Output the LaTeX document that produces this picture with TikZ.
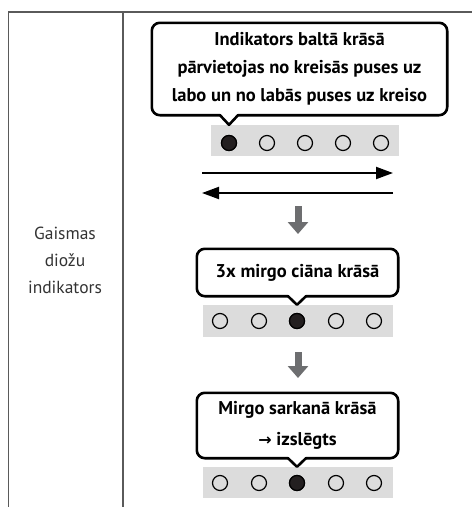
\documentclass[tikz,border=0pt]{standalone}
\usepackage{fontspec}
\setmainfont{PT Sans}
\newfontfamily\symfont{DejaVu Sans}
\usetikzlibrary{arrows.meta,positioning}

\definecolor{rulegray}{HTML}{5A5A5A}
\definecolor{arrowgray}{HTML}{6D6E70}
\definecolor{rowgray}{HTML}{DCDCDC}
\definecolor{ledblack}{HTML}{231F20}

\tikzset{
  bubbletext/.style={align=center, inner sep=0pt, font=\bfseries\fontsize{18.5}{28}\selectfont},
  bubble/.style={draw=black, line width=2.6pt, fill=white, line join=round},
  ledrow/.style={fill=rowgray, draw=none, inner sep=0pt},
  ledoff/.style={circle, draw=black, line width=1.2pt, minimum size=15pt, inner sep=0pt},
  ledon/.style={ledoff, fill=ledblack},
  slide/.style={line width=2pt, -{Triangle[length=17pt,width=12pt]}},
  nextstep/.style={arrowgray, line width=7pt, -{Triangle[length=12pt,width=20pt]}},
}

\begin{document}
\begin{tikzpicture}[x=1pt,y=-1pt]
			\useasboundingbox (0,0) rectangle (472,507);
			
			% table rules
			\draw[rulegray, line width=1.3pt] (8,12) -- (472,12);
			\draw[rulegray, line width=1.3pt] (8.5,12) -- (8.5,507);
			\draw[rulegray, line width=1.3pt] (123,12) -- (123,507);
			
			\node[align=center, text=black!80, font=\fontsize{17.5}{27}\selectfont] (label) at (65,260) {Gaismas\\diožu\\indikators};
			
			% first state: white, moving
			\node[ledrow, minimum width=188pt, minimum height=31pt] (rowA) at (305,140.5) {};
			\foreach \i/\x in {1/229,2/267,3/305,4/343,5/381}
				\node[ledoff] (ledA\i) at (\x,143) {};
			\node[ledon] at (ledA1) {};
			\coordinate (tipA) at (ledA1 |- rowA.north);
			
			\node[minimum width=295pt, minimum height=92pt, inner sep=0pt] (boxA) at (299.5,69) {};
			\draw[bubble] (tipA) -- ([xshift=-9pt]tipA |- boxA.south) [rounded corners=8pt] -- (boxA.south west) -- (boxA.north west) -- (boxA.north east) -- (boxA.south east) [sharp corners] -- ([xshift=9pt]tipA |- boxA.south) -- cycle;
			\node[bubbletext] (msgA) at (boxA) {Indikators baltā krāsā\\pārvietojas no kreisās puses uz\\labo un no labās puses uz kreiso};
			
			\coordinate (slideL) at (202,173);
			\coordinate (slideR) at (393,173);
			\draw[slide] (slideL) -- (slideR);
			\draw[slide] ([yshift=-20pt]slideR) -- ([yshift=-20pt]slideL);
			
			\coordinate (downA1) at (298,206);
			\coordinate (downA2) at (298,234);
			\draw[nextstep] (downA1) -- (downA2);
			
			% second state: cyan blinking
			\node[ledrow, minimum width=190pt, minimum height=32pt] (rowB) at (298,321) {};
			\foreach \i/\x in {1/220,2/259,3/297,4/336,5/374}
				\node[ledoff] (ledB\i) at (\x,321) {};
			\node[ledon] at (ledB3) {};
			\coordinate (tipB) at (ledB3 |- rowB.north);
			
			\node[minimum width=201pt, minimum height=47pt, inner sep=0pt] (boxB) at (297.5,272.5) {};
			\draw[bubble] (tipB) -- ([xshift=-9pt]tipB |- boxB.south) [rounded corners=8pt] -- (boxB.south west) -- (boxB.north west) -- (boxB.north east) -- (boxB.south east) [sharp corners] -- ([xshift=9pt]tipB |- boxB.south) -- cycle;
			\node[bubbletext] (msgB) at (boxB) {3x mirgo ciāna krāsā};
			
			\coordinate (downB1) at (298,352);
			\coordinate (downB2) at (298,378);
			\draw[nextstep] (downB1) -- (downB2);
			
			% third state: red blinking, then off
			\node[ledrow, minimum width=190pt, minimum height=31pt] (rowC) at (298,482.5) {};
			\foreach \i/\x in {1/220,2/259,3/297,4/336,5/374}
				\node[ledoff] (ledC\i) at (\x,483) {};
			\node[ledon] at (ledC3) {};
			\coordinate (tipC) at (ledC3 |- rowC.north);
			
			\node[minimum width=201pt, minimum height=65pt, inner sep=0pt] (boxC) at (297.5,425.5) {};
			\draw[bubble] (tipC) -- ([xshift=-9pt]tipC |- boxC.south) [rounded corners=8pt] -- (boxC.south west) -- (boxC.north west) -- (boxC.north east) -- (boxC.south east) [sharp corners] -- ([xshift=9pt]tipC |- boxC.south) -- cycle;
			\node[bubbletext, font=\bfseries\fontsize{18.5}{31}\selectfont] (msgC) at (boxC) {Mirgo sarkanā krāsā\\{\symfont\bfseries\fontsize{16}{16}\selectfont →} izslēgts};
		\end{tikzpicture}
\end{document}
